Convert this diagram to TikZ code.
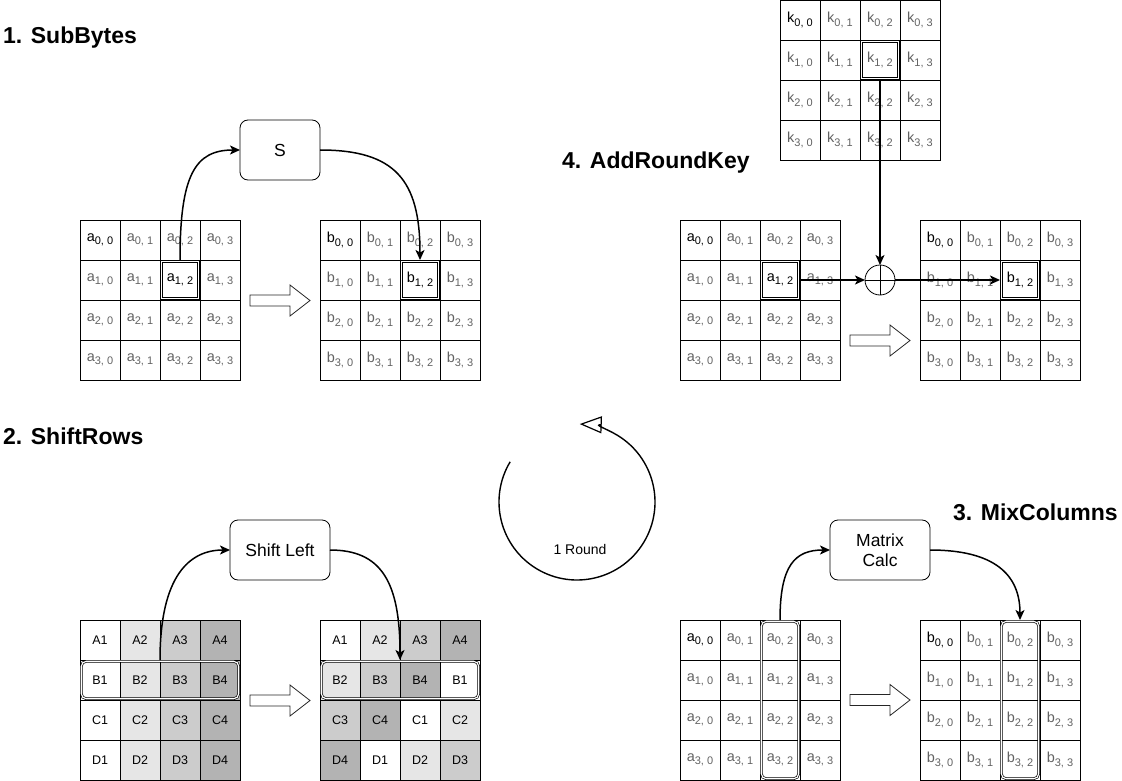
\documentclass[tikz,border=0pt]{standalone}
\usepackage{fontspec}
\setmainfont{Liberation Sans}
\usetikzlibrary{arrows.meta}
\definecolor{cellgray}{HTML}{626262}
\definecolor{sh1}{HTML}{FFFFFF}
\definecolor{sh2}{HTML}{E6E6E6}
\definecolor{sh3}{HTML}{CCCCCC}
\definecolor{sh4}{HTML}{B3B3B3}
\newcommand\sbs[1]{\raisebox{-0.45ex}{\fontsize{11}{12}\selectfont #1}}
\newcommand\stgrid[5]{%
  \foreach \rr in {0,...,3}{\foreach \cc in {0,...,3}{%
    \edef\rc{\rr-\cc}\def\hlc{#5}%
    \ifx\rc\hlc \def\tcol{black}\else
      \ifnum\rr=0 \ifnum\cc=0 \def\tcol{black}\else\def\tcol{cellgray}\fi\else\def\tcol{cellgray}\fi
    \fi
    \node[cell,text=\tcol] (#1-\rr-\cc) at ({#2+40*\cc+20},{#3+40*\rr+20}) {#4\sbs{\rr, \cc}};
  }}}
\newcommand\harrow[2]{%
  \draw[harr] (#1,{#2-5.5}) -- ({#1+40},{#2-5.5}) -- ({#1+40},{#2-15.5}) -- ({#1+60},#2)
    -- ({#1+40},{#2+15.5}) -- ({#1+40},{#2+5.5}) -- (#1,{#2+5.5}) -- cycle;}
\tikzset{
  cell/.style={draw, minimum size=40pt, inner sep=0pt, outer sep=0pt, line width=0.8pt,
    font=\fontsize{14.5}{16}\selectfont},
  scell/.style={draw, minimum size=40pt, inner sep=0pt, outer sep=0pt, line width=0.8pt,
    font=\fontsize{12.5}{14}\selectfont},
  box/.style={draw, rounded corners=8pt, minimum height=60pt, inner sep=0pt, outer sep=0pt,
    line width=0.8pt, align=center, font=\fontsize{17.5}{20}\selectfont},
  title/.style={anchor=base west, inner sep=0pt, font=\fontsize{23}{27}\bfseries\selectfont},
  conn/.style={line width=1.5pt, -{Stealth[length=10pt,width=9pt,inset=2.5pt]}},
  hlsq/.style={draw, line width=0.7pt, double=white, double distance=1.2pt},
  hlrd/.style={hlsq, rounded corners=5pt},
  harr/.style={draw=black!85, fill=white, line width=0.8pt, line join=miter},
}
\begin{document}
\begin{tikzpicture}[x=1pt,y=-1pt]
\useasboundingbox (0,0) rectangle (1122,781);

% titles
\node[title] (t1) at (3,44) {1. SubBytes};
\node[title] (t2) at (3,444) {2. ShiftRows};
\node[title] (t3) at (953,520) {3. MixColumns};
\node[title] (t4) at (562,168) {4. AddRoundKey};

% ---------- 1. SubBytes
\stgrid{sa}{80}{220}{a}{1-2}
\stgrid{sb}{320}{220}{b}{1-2}
\draw[hlsq] ([shift={(1.3,1.3)}]sa-1-2.north west) rectangle ([shift={(-1.3,-1.3)}]sa-1-2.south east);
\draw[hlsq] ([shift={(1.3,1.3)}]sb-1-2.north west) rectangle ([shift={(-1.3,-1.3)}]sb-1-2.south east);
\node[box, minimum width=80pt] (S) at (280,150) {S};
\draw[conn] (sa-1-2.north) .. controls +(0,-85) and +(-45,0) .. (S.west);
\draw[conn] (S.east) .. controls +(75,0) and +(0,-80) .. (sb-1-2.north);
\harrow{250}{300.5}

% ---------- 4. AddRoundKey
\stgrid{kk}{780}{0}{k}{none}
\stgrid{aa}{680}{220}{a}{1-2}
\stgrid{ab}{920}{220}{b}{1-2}
\draw[hlsq] ([shift={(1.3,1.3)}]kk-1-2.north west) rectangle ([shift={(-1.3,-1.3)}]kk-1-2.south east);
\draw[hlsq] ([shift={(1.3,1.3)}]aa-1-2.north west) rectangle ([shift={(-1.3,-1.3)}]aa-1-2.south east);
\draw[hlsq] ([shift={(1.3,1.3)}]ab-1-2.north west) rectangle ([shift={(-1.3,-1.3)}]ab-1-2.south east);
\node[draw, circle, fill=white, minimum size=30pt, inner sep=0pt, outer sep=0pt, line width=0.8pt] (xor) at (880,280) {};
\draw[line width=0.8pt] (xor.north) -- (xor.south) (xor.west) -- (xor.east);
\draw[conn] (kk-1-2.south) -- (xor.north);
\draw[conn] (aa-1-2.east) -- (xor.west);
\draw[conn] (xor.east) -- (ab-1-2.west);
\harrow{850}{340.5}

% ---------- 2. ShiftRows
\foreach \rr/\L in {0/A,1/B,2/C,3/D}{\foreach \cc in {0,...,3}{%
  \pgfmathtruncatemacro\idx{\cc+1}%
  \node[scell,fill=sh\idx] (sl-\rr-\cc) at ({80+40*\cc+20},{620+40*\rr+20}) {\L\idx};
  \pgfmathtruncatemacro\jdx{mod(\cc+\rr,4)+1}%
  \node[scell,fill=sh\jdx] (sr-\rr-\cc) at ({320+40*\cc+20},{620+40*\rr+20}) {\L\jdx};
}}
\draw[hlrd] ([shift={(1.3,1.3)}]sl-1-0.north west) rectangle ([shift={(-1.3,-1.3)}]sl-1-3.south east);
\draw[hlrd] ([shift={(1.3,1.3)}]sr-1-0.north west) rectangle ([shift={(-1.3,-1.3)}]sr-1-3.south east);
\node[box, minimum width=100pt] (SL) at (280,550) {Shift Left};
\draw[conn] (sl-1-1.north east) .. controls +(0,-85) and +(-40,0) .. (SL.west);
\draw[conn] (SL.east) .. controls +(50,0) and +(0,-80) .. (sr-1-2.north west);
\harrow{250}{700.5}

% ---------- 3. MixColumns
\stgrid{ma}{680}{620}{a}{none}
\stgrid{mb}{920}{620}{b}{none}
\draw[hlrd] ([shift={(1.3,1.3)}]ma-0-2.north west) rectangle ([shift={(-1.3,-1.3)}]ma-3-2.south east);
\draw[hlrd] ([shift={(1.3,1.3)}]mb-0-2.north west) rectangle ([shift={(-1.3,-1.3)}]mb-3-2.south east);
\node[box, minimum width=100pt] (MC) at (880,550) {Matrix\\Calc};
\draw[conn] (ma-0-2.north) .. controls +(0,-55) and +(-35,0) .. (MC.west);
\draw[conn] (MC.east) .. controls +(65,0) and +(0,-45) .. (mb-0-2.north);
\harrow{850}{700}

% ---------- round
\node[font=\fontsize{14}{16}\selectfont, inner sep=0pt] (rnd) at (580,549) {1 Round};
\coordinate (rc) at (577,502);
\draw[line width=1.4pt, -{Triangle[open, length=22pt, width=17pt, line width=1.2pt]}]
  (rc) ++(149:78pt) arc[start angle=149, end angle=448, radius=78pt];
\end{tikzpicture}
\end{document}
